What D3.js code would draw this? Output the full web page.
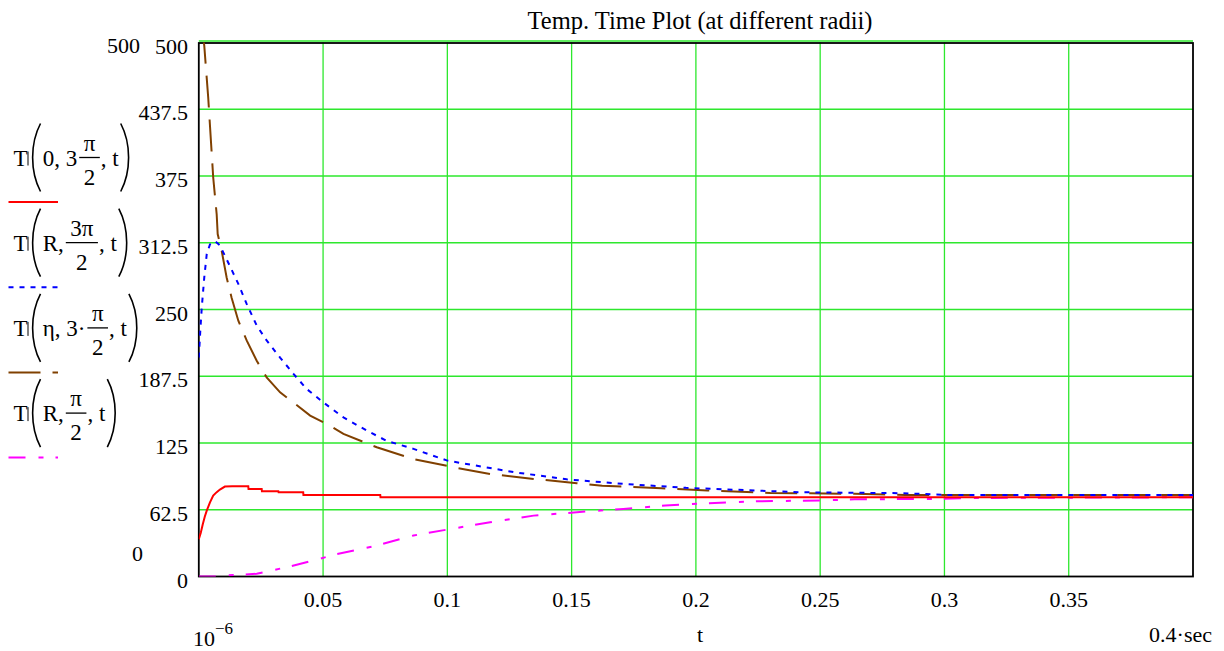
<!DOCTYPE html>
<html><head><meta charset="utf-8">
<script src="https://cdn.jsdelivr.net/npm/d3@7"></script>
<style>
body{margin:0;background:#fff}
svg{display:block}
text{font-family:"Liberation Serif","Times New Roman",serif;fill:#000}
</style>
</head><body>
<svg id="c" width="1224" height="651"></svg>
<script>
// ---------- data ----------
const title = "Temp. Time Plot (at different radii)";
const xMin = 1e-6, xMax = 0.4;
const yMin = 0, yMax = 500;
const xTicks = [0.05, 0.1, 0.15, 0.2, 0.25, 0.3, 0.35];
const xTickLabels = ["0.05", "0.1", "0.15", "0.2", "0.25", "0.3", "0.35"];
const yTicks = [0, 62.5, 125, 187.5, 250, 312.5, 375, 437.5, 500];
const yTickLabels = ["0", "62.5", "125", "187.5", "250", "312.5", "375", "437.5", "500"];

const tRed = [0,0.0008,0.0016,0.0024,0.0032,0.0045,0.0058,0.0072,0.0085,0.0105,0.0135,0.0199,0.02,0.0253,0.0254,0.032,0.0321,0.042,0.0421,0.073,0.0731,0.4];
const TRed = [35,41,49,56,61.7,69.5,75.8,79,81.4,84.2,84.5,84.5,82,82,79.8,79.8,78.9,78.9,76.4,76.4,74.2,74.2];

const tBlue = [0,0.0006,0.0012,0.0022,0.0032,0.0045,0.0065,0.0085,0.0112,0.0159,0.0193,0.0233,0.0273,0.0327,0.038,0.0434,0.0501,0.0582,0.0676,0.0756,0.0864,0.1,0.127,0.148,0.171,0.196,0.242,0.283,0.301,0.4];
const TBlue = [205,230,252,280,302,311,314,310,297,274,255,235,221,205,190,175.6,163,149,136.6,127,119.5,108.5,97.6,91,86.7,83,78.9,78,76.4,76.4];

const tBrown = [0.0015,0.0022,0.0038,0.0058,0.0072,0.0076,0.0092,0.0112,0.0132,0.0159,0.0193,0.0233,0.0273,0.0327,0.038,0.0448,0.0515,0.0582,0.0716,0.0864,0.1025,0.1172,0.1347,0.1521,0.1623,0.1861,0.2046,0.23,0.2638,0.2843,0.4];
const TBrown = [510,497,448,373.6,339,320.6,305,280,261,239.5,220.8,202,186.5,172.4,163,150.6,142.9,133.5,121,110,102.3,96,91.4,87.3,85,82.6,80.5,78.3,77.4,76.4,76.4];

const tMag = [0,0.0065,0.0112,0.0233,0.0367,0.0461,0.0555,0.0716,0.0864,0.1038,0.1172,0.1347,0.1521,0.1708,0.1877,0.2046,0.2249,0.2501,0.2638,0.2976,0.31,0.4];
const TMag = [0,0,1,2.5,9.4,15,21,29,38.4,45.5,50.8,57,60.2,63.3,66.4,68.6,70.5,71.1,72.3,72.7,73.5,74.2];

// legend pieces: T( pre  num/den  post )
const legendPre  = ["0, 3", "R, ", "\u03B7, 3\u00B7", "R, "];
const legendNum  = ["\u03C0", "3\u03C0", "\u03C0", "\u03C0"];
const legendDen  = ["2", "2", "2", "2"];
const legendPost = [", t", ", t", ", t", ", t"];

const seriesColor = ["#ff0000", "#0000ff", "#804000", "#ff00ff"];
const seriesDash  = [null, "5,6", "32,12", "17,13,5,12"];

// ---------- layout ----------
const svg = d3.select("#c");
const L = 198.8, R = 1193, T = 42.5, B = 576.5;
const x = d3.scaleLinear().domain([xMin, xMax]).range([L, R]);
const y = d3.scaleLinear().domain([yMin, yMax]).range([B, T]);
const gridColor = "#2de82d";

// grid
svg.append("g").selectAll("line.v").data(xTicks).join("line")
  .attr("x1", d => x(d)).attr("x2", d => x(d)).attr("y1", T).attr("y2", B)
  .attr("stroke", gridColor).attr("stroke-width", 1.3);
svg.append("g").selectAll("line.h").data(yTicks.filter(v => v > 0)).join("line")
  .attr("x1", L).attr("x2", R)
  .attr("y1", d => y(d) - (d === yMax ? 1.5 : 0)).attr("y2", d => y(d) - (d === yMax ? 1.5 : 0))
  .attr("stroke", gridColor).attr("stroke-width", 1.3);

// clip
svg.append("clipPath").attr("id", "pc").append("rect")
  .attr("x", L).attr("y", T).attr("width", R - L).attr("height", B - T);

const seriesT = [tRed, tBlue, tBrown, tMag];
const seriesV = [TRed, TBlue, TBrown, TMag];
const line = d3.line().x(d => x(d[0])).y(d => y(d[1]));

// frame
svg.append("rect").attr("x", L).attr("y", T + 0.5).attr("width", R - L).attr("height", B - T - 0.5)
  .attr("fill", "none").attr("stroke", "#000").attr("stroke-width", 1.8);

const plotG = svg.append("g").attr("clip-path", "url(#pc)");
// draw order: magenta, brown, blue, red
[3, 2, 1, 0].forEach(i => {
  const pts = seriesT[i].map((t, k) => [Math.max(t, xMin), seriesV[i][k]]);
  plotG.append("path").attr("d", line(pts))
    .attr("fill", "none").attr("stroke", seriesColor[i]).attr("stroke-width", 2)
    .attr("stroke-dasharray", seriesDash[i]);
});

// tick labels
svg.append("g").selectAll("text").data(yTicks).join("text")
  .attr("x", 188).attr("y", d => y(d) + 11).attr("text-anchor", "end")
  .attr("font-size", 22).text((d, i) => yTickLabels[i]);
svg.append("g").selectAll("text").data(xTicks).join("text")
  .attr("x", d => x(d)).attr("y", 607).attr("text-anchor", "middle")
  .attr("font-size", 22).text((d, i) => xTickLabels[i]);

// axis limit labels
svg.append("text").attr("x", 140).attr("y", 53).attr("text-anchor", "end").attr("font-size", 22).text("500");
svg.append("text").attr("x", 143).attr("y", 561).attr("text-anchor", "end").attr("font-size", 22).text("0");
const lo = svg.append("text").attr("x", 193).attr("y", 646).attr("font-size", 22);
lo.append("tspan").text("10");
lo.append("tspan").attr("dy", -12).attr("font-size", 17).text("\u22126");
svg.append("text").attr("x", 700).attr("y", 642).attr("text-anchor", "middle").attr("font-size", 22).text("t");
svg.append("text").attr("x", 1212).attr("y", 642).attr("text-anchor", "end").attr("font-size", 22).text("0.4\u00B7sec");

// title
svg.append("text").attr("x", 700).attr("y", 29).attr("text-anchor", "middle")
  .attr("font-size", 24.5).text(title);

// legend
const fs = 23;
function paren(g, x0, top, bot, left) {
  const p = left
    ? `M${x0 + 11},${top} C${x0 + 0.5},${top + 20} ${x0 + 0.5},${bot - 20} ${x0 + 11},${bot}`
    : `M${x0},${top} C${x0 + 10.5},${top + 20} ${x0 + 10.5},${bot - 20} ${x0},${bot}`;
  g.append("path").attr("d", p).attr("fill", "none").attr("stroke", "#000").attr("stroke-width", 1.6);
}
legendPre.forEach((pre, i) => {
  const ly = 157.5 + i * 85.2;
  const g = svg.append("g");
  g.append("text").attr("x", 13.5).attr("y", ly + 8).attr("font-size", fs).text("T");
  g.append("line").attr("x1", 28).attr("x2", 28).attr("y1", ly - 6).attr("y2", ly + 8)
    .attr("stroke", "#000").attr("stroke-width", 1);
  paren(g, 29.5, ly - 34, ly + 34, true);
  const t1 = g.append("text").attr("x", 42.7).attr("y", ly + 8).attr("font-size", fs).text(pre);
  let cx = 42.7 + t1.node().getComputedTextLength() + 2;
  const num = g.append("text").attr("y", ly - 7).attr("font-size", fs).attr("text-anchor", "middle").text(legendNum[i]);
  const den = g.append("text").attr("y", ly + 27).attr("font-size", fs).attr("text-anchor", "middle").text(legendDen[i]);
  const w = Math.max(num.node().getComputedTextLength(), den.node().getComputedTextLength()) + 9;
  num.attr("x", cx + w / 2); den.attr("x", cx + w / 2);
  g.append("line").attr("x1", cx).attr("x2", cx + w).attr("y1", ly).attr("y2", ly)
    .attr("stroke", "#000").attr("stroke-width", 1.3);
  cx += w + 1;
  const t2 = g.append("text").attr("x", cx).attr("y", ly + 8).attr("font-size", fs).text(legendPost[i]);
  cx += t2.node().getComputedTextLength() + 2;
  paren(g, cx, ly - 34, ly + 34, false);
  // sample line
  g.append("line").attr("x1", 8.5).attr("x2", 58).attr("y1", ly + 44.5).attr("y2", ly + 44.5)
    .attr("stroke", seriesColor[i]).attr("stroke-width", 2).attr("stroke-dasharray", seriesDash[i]);
});
</script>
</body></html>
